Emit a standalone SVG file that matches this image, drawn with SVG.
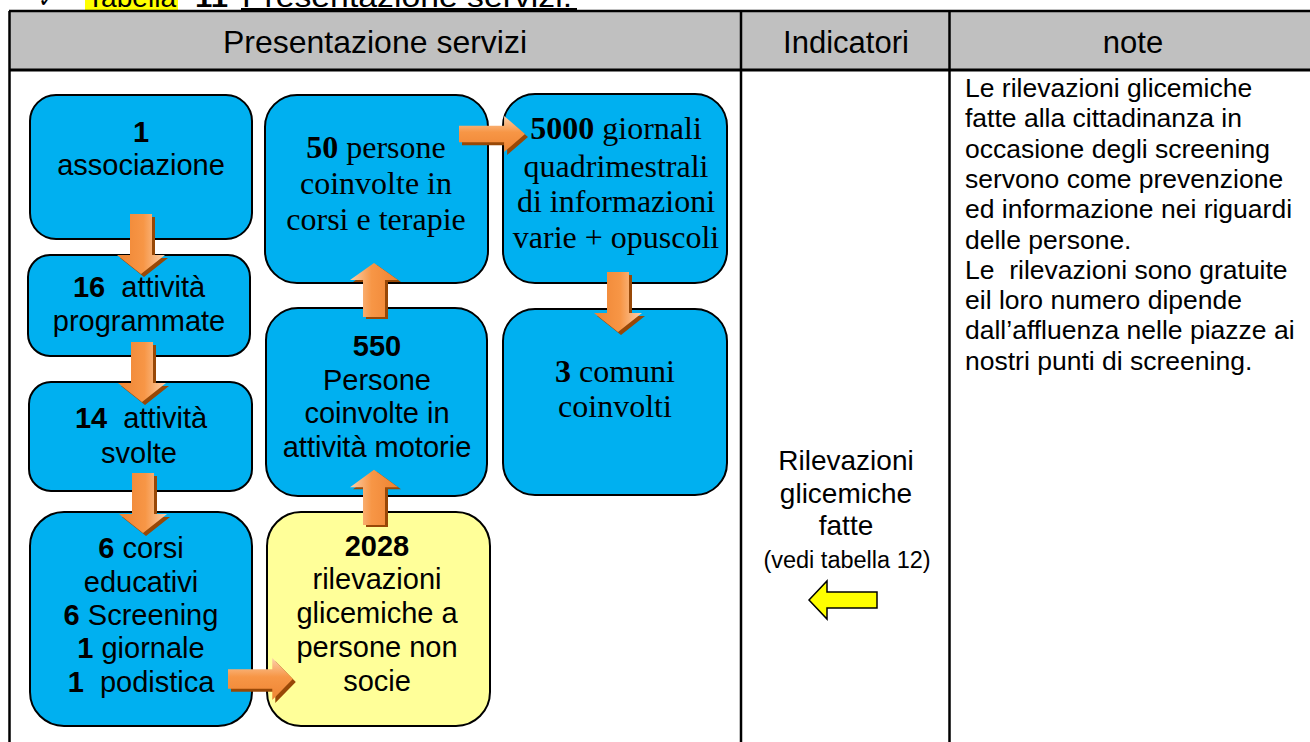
<svg xmlns="http://www.w3.org/2000/svg" xmlns:xlink="http://www.w3.org/1999/xlink" width="1310" height="742" viewBox="0 0 1310 742">
<style>
.s{font-family:"Liberation Sans",Arial,sans-serif;fill:#000}
.r{font-family:"Liberation Serif","Times New Roman",serif;fill:#000}
.b{font-weight:bold}
.box{stroke:#000;stroke-width:2}
.blue{fill:#00b0f0}
.yel{fill:#ffff99}
.sh{fill:#984807}
.ar{fill:url(#og)}
.ln{stroke:#000;fill:none}
</style>
<defs>
<linearGradient id="og" x1="0" y1="0" x2="0" y2="1">
<stop offset="0" stop-color="#fcd0ac"/>
<stop offset="0.45" stop-color="#f79646"/>
<stop offset="1" stop-color="#ee8433"/>
</linearGradient>
<path id="arr" d="M0,-11 H41 V-24 L60,0 L41,24 V11 H0 Z"/>
</defs>

<g id="caption">
<rect x="85" y="0" width="93" height="10" fill="#ffff00"/>
<text x="38" y="7" class="s" font-size="22" font-family="DejaVu Sans">✓</text>
<text x="87" y="7" class="s" font-size="28" textLength="89" lengthAdjust="spacingAndGlyphs">Tabella</text>
<text x="195" y="7" class="s b" font-size="28" textLength="33" lengthAdjust="spacingAndGlyphs">11</text>
<text x="242" y="7" class="s" font-size="30" textLength="330" lengthAdjust="spacingAndGlyphs">Presentazione servizi.</text>
<rect x="241" y="8" width="336" height="2.5" fill="#000"/>
</g>

<g id="table">
<rect x="9" y="11" width="1301" height="59" fill="#c0c0c0"/>
<path class="ln" stroke-width="2.5" d="M9.5,11 V742 M9,11 H1310 M741,11 V742 M949.5,11 V742"/>
<path class="ln" stroke-width="3" d="M9,70 H1310"/>
<text x="375" y="53" class="s" font-size="32" text-anchor="middle">Presentazione servizi</text>
<text x="846" y="53" class="s" font-size="31" text-anchor="middle">Indicatori</text>
<text x="1133" y="53" class="s" font-size="31" text-anchor="middle">note</text>
</g>

<g id="n1">
<rect class="box blue" x="30" y="95" width="222" height="144" rx="26"/>
<text class="s" font-size="29" text-anchor="middle"><tspan x="141" y="142" class="b">1</tspan><tspan x="141" y="175">associazione</tspan></text>
</g>
<g id="n2">
<rect class="box blue" x="28" y="255" width="222" height="101" rx="22"/>
<text class="s" font-size="29" text-anchor="middle" xml:space="preserve"><tspan x="139" y="297"><tspan class="b">16</tspan>  attività</tspan><tspan x="139" y="331">programmate</tspan></text>
</g>
<g id="n3">
<rect class="box blue" x="29" y="382" width="223" height="109" rx="22"/>
<text class="s" font-size="29" text-anchor="middle" xml:space="preserve"><tspan x="141" y="428"><tspan class="b">14</tspan>  attività</tspan><tspan x="139" y="463">svolte</tspan></text>
</g>
<g id="n4">
<rect class="box blue" x="30" y="512" width="222" height="214" rx="34"/>
<text class="s" font-size="29" text-anchor="middle" xml:space="preserve"><tspan x="141" y="558"><tspan class="b">6</tspan> corsi</tspan><tspan x="141" y="592">educativi</tspan><tspan x="141" y="625"><tspan class="b">6</tspan> Screening</tspan><tspan x="141" y="658"><tspan class="b">1</tspan> giornale</tspan><tspan x="141" y="692"><tspan class="b">1</tspan>  podistica</tspan></text>
</g>
<g id="n5">
<rect class="box blue" x="265" y="95" width="223" height="188" rx="32"/>
<text class="r" font-size="32" text-anchor="middle"><tspan x="376" y="158"><tspan class="b">50</tspan> persone</tspan><tspan x="376" y="194">coinvolte in</tspan><tspan x="376" y="230">corsi e terapie</tspan></text>
</g>
<g id="n6">
<rect class="box blue" x="266" y="308" width="221" height="188" rx="32"/>
<text class="s" font-size="29" text-anchor="middle"><tspan x="377" y="356" class="b">550</tspan><tspan x="377" y="390">Persone</tspan><tspan x="377" y="423">coinvolte in</tspan><tspan x="377" y="457">attività motorie</tspan></text>
</g>
<g id="n7">
<rect class="box yel" x="267" y="512" width="223" height="214" rx="34"/>
<text class="s" font-size="29" text-anchor="middle"><tspan x="377" y="556" class="b">2028</tspan><tspan x="377" y="589">rilevazioni</tspan><tspan x="377" y="623">glicemiche a</tspan><tspan x="377" y="657">persone non</tspan><tspan x="377" y="691">socie</tspan></text>
</g>
<g id="n8">
<rect class="box blue" x="503" y="94" width="224" height="189" rx="32"/>
<text class="r" font-size="32" text-anchor="middle"><tspan x="616" y="139"><tspan class="b">5000</tspan> giornali</tspan><tspan x="616" y="177">quadrimestrali</tspan><tspan x="616" y="212">di informazioni</tspan><tspan x="616" y="248">varie + opuscoli</tspan></text>
</g>
<g id="n9">
<rect class="box blue" x="503" y="309" width="224" height="186" rx="32"/>
<text class="r" font-size="32" text-anchor="middle"><tspan x="615" y="382"><tspan class="b">3</tspan> comuni</tspan><tspan x="615" y="417">coinvolti</tspan></text>
</g>

<g id="indicatori">
<text class="s" font-size="28" text-anchor="middle"><tspan x="846" y="470">Rilevazioni</tspan><tspan x="846" y="503">glicemiche</tspan><tspan x="846" y="535">fatte</tspan></text>
<text x="847" y="568" class="s" font-size="23.5" text-anchor="middle">(vedi tabella 12)</text>
<path d="M809,600 L827,581 V592 H877 V608 H827 V619 Z" fill="#ffff00" stroke="#000" stroke-width="1.5"/>
</g>

<g id="notes">
<text class="s" font-size="26.5" xml:space="preserve"><tspan x="965" y="97">Le rilevazioni glicemiche</tspan><tspan x="965" y="127.3">fatte alla cittadinanza in</tspan><tspan x="965" y="157.6">occasione degli screening</tspan><tspan x="965" y="187.9">servono come prevenzione</tspan><tspan x="965" y="218.2">ed informazione nei riguardi</tspan><tspan x="965" y="248.5">delle persone.</tspan><tspan x="965" y="278.8">Le  rilevazioni sono gratuite</tspan><tspan x="965" y="309.1">eil loro numero dipende</tspan><tspan x="965" y="339.4">dall’affluenza nelle piazze ai</tspan><tspan x="965" y="369.7">nostri punti di screening.</tspan></text>
</g>

<g id="connectors">
<use href="#arr" class="sh" transform="translate(144,217) rotate(90)"/>
<use href="#arr" class="ar" transform="translate(141,214) rotate(90)"/>
<use href="#arr" class="sh" transform="translate(145,345) rotate(90)"/>
<use href="#arr" class="ar" transform="translate(142,342) rotate(90)"/>
<use href="#arr" class="sh" transform="translate(146,476) rotate(90)"/>
<use href="#arr" class="ar" transform="translate(143,473) rotate(90)"/>
<use href="#arr" class="sh" transform="translate(621,275) rotate(90)"/>
<use href="#arr" class="ar" transform="translate(618,272) rotate(90)"/>
<use href="#arr" class="sh" transform="translate(377,527) rotate(-90) scale(0.92,1)"/>
<use href="#arr" class="ar" transform="translate(374,525) rotate(-90) scale(0.92,1)"/>
<use href="#arr" class="sh" transform="translate(377,319) rotate(-90) scale(0.9,1)"/>
<use href="#arr" class="ar" transform="translate(374,317) rotate(-90) scale(0.9,1)"/>
<use href="#arr" class="sh" transform="translate(231,682) scale(1.08,0.88)"/>
<use href="#arr" class="ar" transform="translate(228,679) scale(1.08,0.88)"/>
<use href="#arr" class="sh" transform="translate(462,137) scale(1.1,0.75)"/>
<use href="#arr" class="ar" transform="translate(459,134) scale(1.1,0.75)"/>
</g>
</svg>
